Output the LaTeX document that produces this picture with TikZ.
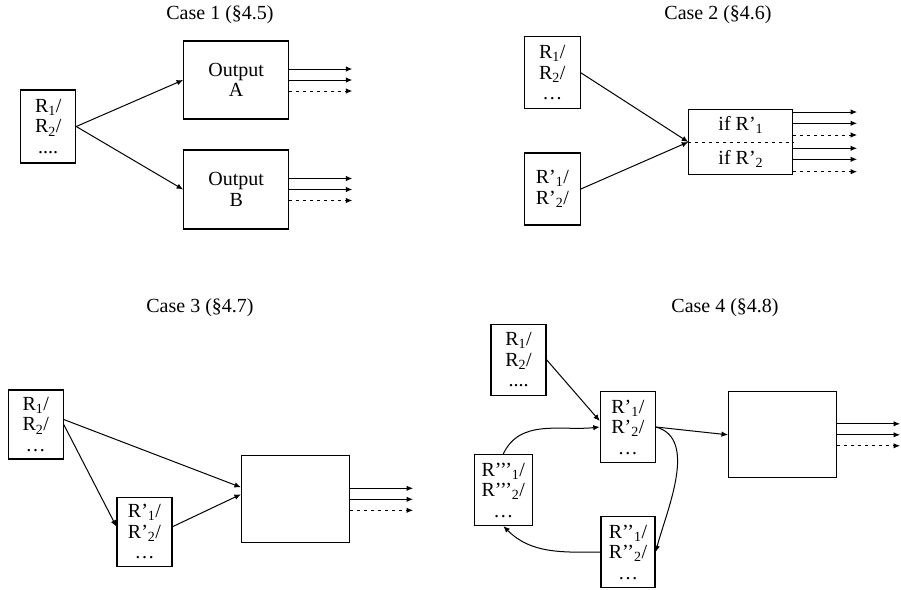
\documentclass[tikz,border=0pt]{standalone}
\usepackage{fontspec}
\setmainfont{Liberation Serif}
\usetikzlibrary{arrows.meta,calc}
\tikzset{
  box/.style        = {draw, line width=1.1pt, minimum width=55pt, minimum height=71pt,
                       align=center, inner sep=1pt},
  bigbox/.style     = {box, minimum width=106pt, minimum height=87pt},
  sig/.style        = {-{Latex[length=6.5pt,width=5.5pt]}, line width=1pt},
  sigdash/.style    = {sig, dash pattern=on 3pt off 4pt},
  divider/.style    = {line width=1pt, dash pattern=on 3pt off 4pt},
  every node/.style = {font=\fontsize{20}{20.5}\selectfont},
  ttl/.style        = {inner sep=0pt},
}

\begin{document}
\begin{tikzpicture}[x=1pt,y=1pt]
  \useasboundingbox (0,0) rectangle (901,-589);

  % Case 1
  \node[ttl] (t1) at (220,-15) {Case 1 (§4.5)};
  \node[box, minimum height=73pt] (c1in) at (48.2,-126.5) {R\textsubscript{1}/\\R\textsubscript{2}/\\....};
  \node[bigbox, minimum width=105pt, minimum height=78pt] (c1a) at (236.2,-80) {Output\\A};
  \node[bigbox, minimum width=105pt, minimum height=79pt] (c1b) at (236.2,-189.5) {Output\\B};
  \draw[sig] (c1in.east) -- (c1a.west);
  \draw[sig] (c1in.east) -- (c1b.west);

  % Case 2
  \node[ttl] (t2) at (718,-15) {Case 2 (§4.6)};
  \node[box, minimum width=56pt, minimum height=72pt] (c2a) at (552.3,-72.8) {R\textsubscript{1}/\\R\textsubscript{2}/\\\dots};
  \node[box, minimum width=56pt, minimum height=72pt] (c2b) at (552.3,-189) {R’\textsubscript{1}/\\R’\textsubscript{2}/};
  \node[box, minimum width=104pt, minimum height=65pt] (c2if) at (740.8,-142)
    {if R’\textsubscript{1}\\[13pt]if R’\textsubscript{2}};
  \draw[divider] (c2if.west) -- (c2if.east);
  \draw[sig] (c2a.east) -- (c2if.west);
  \draw[sig] (c2b.east) -- (c2if.west);
  \foreach \dy/\sty [count=\i] in {30/sig,18.7/sig,7/sigdash,-6.3/sig,-17.3/sig,-29.7/sigdash} {
    \coordinate (c2if\i) at ($(c2if.east)+(63.7,\dy)$);
    \draw[\sty] (c2if.east |- c2if\i) -- (c2if\i);
  }

  % Case 3
  \node[ttl] (t3) at (200,-308) {Case 3 (§4.7)};
  \node[box, minimum height=69pt] (c3a) at (35.7,-424.5) {R\textsubscript{1}/\\R\textsubscript{2}/\\\dots};
  \node[box, minimum height=69pt] (c3b) at (144.5,-531.7) {R’\textsubscript{1}/\\R’\textsubscript{2}/\\\dots};
  \node[bigbox, minimum width=108pt] (c3big) at (295.5,-499.3) {};
  \draw[sig] ([yshift=5pt]c3a.east) -- ([yshift=12pt]c3big.west);
  \draw[sig] (c3a.east) -- ([yshift=5pt]c3b.west);
  \draw[sig] ([yshift=5pt]c3b.east) -- ([yshift=5pt]c3big.west);

  % Case 4
  \node[ttl] (t4) at (725,-308) {Case 4 (§4.8)};
  \node[box] (c4a) at (518.5,-359.7) {R\textsubscript{1}/\\R\textsubscript{2}/\\....};
  \node[box] (c4b) at (627.8,-427) {R’\textsubscript{1}/\\R’\textsubscript{2}/\\\dots};
  \node[box, minimum width=54pt] (c4c) at (628,-552.2) {R’’\textsubscript{1}/\\R’’\textsubscript{2}/\\\dots};
  \node[box, minimum width=58pt] (c4d) at (503.3,-490) {R’’’\textsubscript{1}/\\R’’’\textsubscript{2}/\\\dots};
  \node[bigbox, minimum width=108pt, minimum height=86pt] (c4big) at (782.5,-434.8) {};
  \draw[sig] (c4a.east) -- ([yshift=6pt]c4b.west);
  \draw[sig] (c4b.east) -- (c4big.west);
  \draw[sig] (c4d.north) to[out=65, in=186] (c4b.west);
  \draw[sig] (c4b.east) to[out=-15, in=75, looseness=0.9] (c4c.east);
  \draw[sig] (c4c.west) to[out=180, in=-45] (c4d.south);

  % output bundles
  \foreach \b in {c1a,c1b,c3big,c4big} {
    \foreach \dy/\sty [count=\i] in {11/sig,0/sig,-11/sigdash} {
      \coordinate (\b\i) at ($(\b.east)+(63,\dy)$);
      \draw[\sty] (\b.east |- \b\i) -- (\b\i);
    }
  }
\end{tikzpicture}
\end{document}
